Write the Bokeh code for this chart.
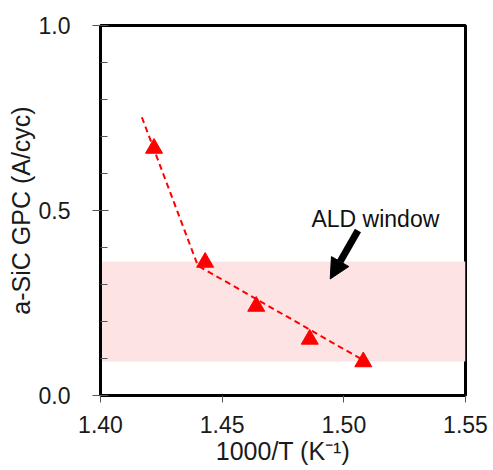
from bokeh.plotting import figure
from bokeh.models import (FixedTicker, PrintfTickFormatter, BoxAnnotation, Label,
                          Arrow, NormalHead, Range1d)
from bokeh.embed import file_html
from bokeh.resources import INLINE

# data
inv_T = [1.422, 1.443, 1.464, 1.486, 1.508]
gpc = [0.668, 0.360, 0.241, 0.152, 0.091]
fit_x = [1.417, 1.440, 1.507]
fit_y = [0.752, 0.351, 0.099]
window_low, window_high = 0.092, 0.362
x_ticks = [1.40, 1.45, 1.50, 1.55]
y_ticks = [0.0, 0.5, 1.0]
y_minor = [0.1, 0.2, 0.3, 0.4, 0.6, 0.7, 0.8, 0.9]

FONT = "Liberation Sans"

p = figure(width=493, height=470, output_backend="svg", toolbar_location=None,
           x_range=Range1d(1.40, 1.55), y_range=Range1d(0.0, 1.0),
           min_border_left=100, min_border_right=28, min_border_top=25, min_border_bottom=75)
p.grid.visible = False
p.outline_line_color = "black"
p.outline_line_width = 3
p.background_fill_color = "white"
p.border_fill_color = "white"

band = BoxAnnotation(bottom=window_low, top=window_high, fill_color="#fde3e3",
                     fill_alpha=1.0, line_color=None, level="underlay")
p.add_layout(band)

p.line(fit_x, fit_y, line_color="red", line_width=2, line_dash="6 4")
p.scatter(inv_T, gpc, marker="triangle", size=17, fill_color="red", line_color="red")

p.add_layout(Label(x=1.4867, y=0.478, text="ALD window", text_font=FONT,
                   text_font_size="23px", text_color="#111111",
                   text_align="left", text_baseline="middle"))
p.add_layout(Arrow(end=NormalHead(size=20, fill_color="black", line_color="black"),
                   x_start=1.5058, y_start=0.446, x_end=1.4944, y_end=0.315,
                   line_color="black", line_width=7))

xa = p.xaxis[0]
xa.ticker = FixedTicker(ticks=x_ticks, minor_ticks=[])
xa.formatter = PrintfTickFormatter(format="%.2f")
xa.axis_label = "1000/T (K\u207b\u00b9)"
ya = p.yaxis[0]
ya.ticker = FixedTicker(ticks=y_ticks, minor_ticks=y_minor)
ya.formatter = PrintfTickFormatter(format="%.1f")
ya.axis_label = "a-SiC GPC (A/cyc)"

for ax in (xa, ya):
    ax.axis_line_color = "black"
    ax.axis_line_width = 3
    ax.major_tick_line_color = "#555555"
    ax.minor_tick_line_color = "#555555"
    ax.major_tick_line_width = 1
    ax.minor_tick_line_width = 1
    ax.major_label_text_font = FONT
    ax.major_label_text_font_size = "23px"
    ax.major_label_text_color = "#1a1a1a"
    ax.axis_label_text_font = FONT
    ax.axis_label_text_font_size = "25px"
    ax.axis_label_text_font_style = "normal"
    ax.axis_label_text_color = "#1a1a1a"

xa.major_tick_out = 7
xa.major_tick_in = 0
xa.minor_tick_out = 0
xa.minor_tick_in = 0
xa.major_label_standoff = 13
xa.axis_label_standoff = 1

ya.major_tick_out = 8
ya.major_tick_in = 8
ya.minor_tick_out = 0
ya.minor_tick_in = 7
ya.major_label_standoff = 22
ya.axis_label_standoff = 1

open("out.html", "w").write(file_html(p, INLINE))
